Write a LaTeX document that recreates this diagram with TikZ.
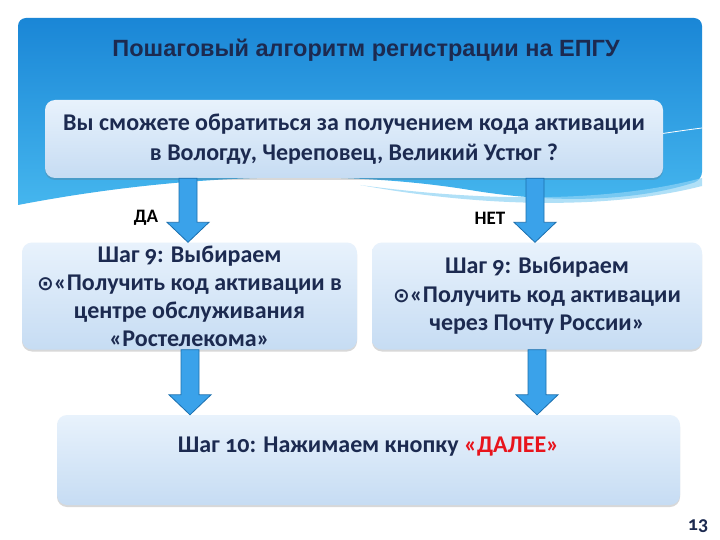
\documentclass[tikz,border=0pt]{standalone}
\usepackage{fontspec}
\setmainfont{Carlito}[Numbers=OldStyle]
\newfontfamily\titlefont{Liberation Sans}
\newfontfamily\symfont{DejaVu Sans}
\usetikzlibrary{shadows,calc}
\definecolor{navy}{HTML}{1C2A50}
\definecolor{hdrtop}{HTML}{1A86D6}
\definecolor{hdrbot}{HTML}{45B6EE}
\definecolor{boxtop}{HTML}{E8F2FC}
\definecolor{boxbot}{HTML}{C6DCF3}
\definecolor{arrfill}{HTML}{3AA2EA}
\definecolor{arrline}{HTML}{1B6FAE}
\definecolor{dalee}{HTML}{E8141C}
\newcommand{\blkarrow}[2]{%
  \filldraw[arrowstyle] ($(#1)+(-9,0)$) -- ($(#2)+(-9,-20)$) -- ($(#2)+(-21,-20)$) -- (#2)
    -- ($(#2)+(21,-20)$) -- ($(#2)+(9,-20)$) -- ($(#1)+(9,0)$) -- cycle;}
\begin{document}
\begin{tikzpicture}[x=1pt,y=-1pt,
  box/.style={rounded corners=10pt, top color=boxtop, bottom color=boxbot, draw=none,
    drop shadow={shadow xshift=0pt, shadow yshift=-2pt, opacity=0.25, fill=black!60}},
  boxtext/.style={font=\bfseries\fontsize{24}{28.5}\selectfont, text=navy, align=center},
  arrowstyle/.style={fill=arrfill, draw=arrline, line width=0.8pt, line join=miter},
  lbl/.style={font=\bfseries\fontsize{19}{21}\selectfont, text=black}]
\useasboundingbox (0,0) rectangle (720,540);
\fill[white] (0,0) rectangle (720,540);
% header with wave
\shade[top color=hdrtop, bottom color=hdrbot, rounded corners=8pt]
  (18,200) -- (18,18) -- (702,18) -- (702,180) [sharp corners]
  .. controls (640,200) and (560,205) .. (470,190)
  .. controls (360,172) and (200,170) .. (18,205) -- cycle;
\fill[hdrbot!60!white, opacity=0.7] (360,185) .. controls (470,200) and (600,205) .. (702,178)
  -- (702,186) .. controls (600,212) and (470,205) .. (360,185) -- cycle;
\draw[white, line width=0.8pt] (560,150) .. controls (620,140) and (670,132) .. (702,128);
\node[font=\titlefont\bfseries\fontsize{23.5}{26}\selectfont, text=navy] (title) at (366,50)
  {Пошаговый алгоритм регистрации на ЕПГУ};
% boxes
\node[box, minimum width=618pt, minimum height=78pt] (q) at (354,139) {};
\node[boxtext, font=\bfseries\fontsize{24}{30}\selectfont] (qt) at (q.center) {Вы сможете обратиться за получением кода активации\\в Вологду, Череповец, Великий Устюг ?};
\node[box, minimum width=335pt, minimum height=107pt] (l) at (189.5,296) {};
\node[boxtext, font=\bfseries\fontsize{24}{28}\selectfont] (lt) at (l.center) {Шаг 9: Выбираем\\{\symfont\fontsize{20}{20}\selectfont⊙}«Получить код активации в\\центре обслуживания\\«Ростелекома»};
\node[box, minimum width=330pt, minimum height=107pt] (r) at (537,296) {};
\node[boxtext] (rt) at (r.center) {Шаг 9: Выбираем\\{\symfont\fontsize{20}{20}\selectfont⊙}«Получить код активации\\через Почту России»};
\node[box, minimum width=623pt, minimum height=90pt] (b) at (368.5,460) {};
\node[boxtext] (bt) at ($(b.center)+(0,-13)$) {Шаг 10: Нажимаем кнопку \textcolor{dalee}{«ДАЛЕЕ»}};
% labels
\node[lbl] (da) at (146,218) {ДА};
\node[lbl] (net) at (490,218) {НЕТ};
% arrows
\coordinate (a1s) at (q.south -| 188,0);
\coordinate (a1e) at (l.north -| 188,0);
\coordinate (a2s) at (q.south -| 535,0);
\coordinate (a2e) at (r.north -| 535,0);
\coordinate (a3s) at (l.south -| 190,0);
\coordinate (a3e) at (b.north -| 190,0);
\coordinate (a4s) at (r.south -| 537,0);
\coordinate (a4e) at (b.north -| 537,0);
\blkarrow{a1s}{a1e}
\blkarrow{a2s}{a2e}
\blkarrow{a3s}{a3e}
\blkarrow{a4s}{a4e}
\node[font=\bfseries\fontsize{20}{22}\selectfont, text=navy] (pg) at (698,526) {13};
\end{tikzpicture}
\end{document}
